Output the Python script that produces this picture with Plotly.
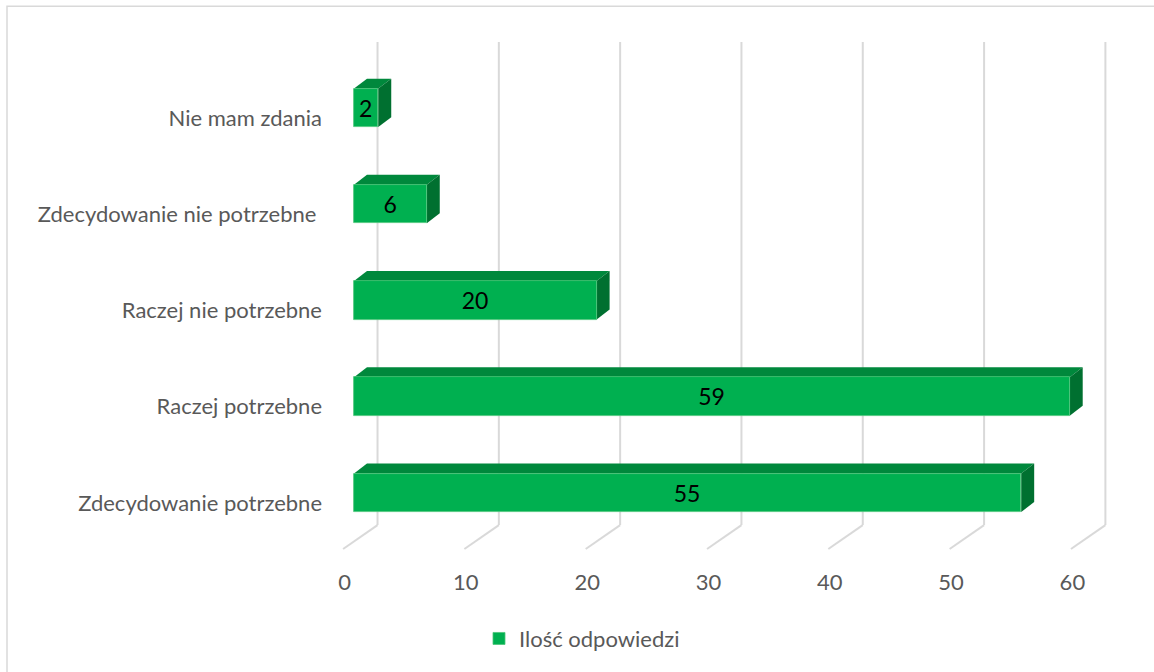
import plotly.graph_objects as go

# ---- data ----
categories = ["Zdecydowanie potrzebne", "Raczej potrzebne", "Raczej nie potrzebne",
              "Zdecydowanie nie potrzebne\u00a0", "Nie mam zdania"]
values = [55, 59, 20, 6, 2]
x_ticks = [0, 10, 20, 30, 40, 50, 60]
series_name = "Ilość odpowiedzi"

# ---- styling / pseudo-3D geometry (in axis units) ----
FONT = "Lato"
GREEN = "#00B050"
TOP = "#00883C"
SIDE = "#007030"
GRID = "#D9D9D9"
BAR_H = 0.40          # front face height
DEPTH_X = 1.07        # bar depth offset in x
DEPTH_Y = 0.1035      # bar depth offset in y
BACK_X = 1.94         # back wall offset
FLOOR_X = -0.90       # floor front offset
TICK_SHIFT = 0.78     # tick label offset (floor front)
Y_BACK = -0.336
Y_TOP = 4.684
Y_FLOOR = -0.585
LABEL_OFF = -0.105
XR = [-1.154, 62.32]
YR = [-0.626, 4.705]

ypos = list(range(len(categories)))

fig = go.Figure()
fig.add_trace(go.Bar(
    x=values, y=ypos, orientation="h", width=BAR_H,
    marker=dict(color=GREEN, line=dict(color="#4CC57A", width=0.8)),
    text=[str(v) for v in values], textposition="inside",
    insidetextanchor="middle", constraintext="none",
    textfont=dict(family=FONT, size=23, color="#000000"),
    name=series_name, showlegend=True, hoverinfo="x+y",
))
fig.add_trace(go.Scatter(x=[None], y=[None], xaxis="x2", yaxis="y",
                         showlegend=False, hoverinfo="skip"))

shapes = []
# back wall gridlines and floor diagonals
for t in x_ticks:
    shapes.append(dict(type="line", xref="x", yref="y", layer="below",
                       x0=t + BACK_X, x1=t + BACK_X, y0=Y_BACK, y1=Y_TOP,
                       line=dict(color=GRID, width=2)))
    shapes.append(dict(type="line", xref="x", yref="y", layer="below",
                       x0=t + BACK_X, x1=t + FLOOR_X, y0=Y_BACK, y1=Y_FLOOR,
                       line=dict(color=GRID, width=2)))
# bar top and side faces
for yi, v in zip(ypos, values):
    yb, yt = yi - BAR_H / 2, yi + BAR_H / 2
    top = (f"M 0,{yt} L {v},{yt} L {v + DEPTH_X},{yt + DEPTH_Y} "
           f"L {DEPTH_X},{yt + DEPTH_Y} Z")
    side = (f"M {v},{yb} L {v},{yt} L {v + DEPTH_X},{yt + DEPTH_Y} "
            f"L {v + DEPTH_X},{yb + DEPTH_Y} Z")
    shapes.append(dict(type="path", path=top, xref="x", yref="y", layer="below",
                       fillcolor=TOP, line=dict(width=0)))
    shapes.append(dict(type="path", path=side, xref="x", yref="y", layer="below",
                       fillcolor=SIDE, line=dict(width=0)))

# outer chart border
L, R, T, B = 340, 1110, 40, 555
W, H = R - L, B - T
shapes.append(dict(type="rect", xref="paper", yref="paper", layer="below",
                   x0=(7 - L) / W, x1=(1170 - L) / W,
                   y0=(B - 690) / H, y1=(B - 6) / H,
                   line=dict(color=GRID, width=1.5), fillcolor="rgba(0,0,0,0)"))

fig.update_layout(
    width=1154, height=672,
    margin=dict(l=L, r=1154 - R, t=T, b=672 - B),
    paper_bgcolor="white", plot_bgcolor="rgba(0,0,0,0)",
    shapes=shapes,
    bargap=0,
    xaxis=dict(range=XR, visible=False, showgrid=False, zeroline=False, fixedrange=True),
    xaxis2=dict(range=[XR[0] + TICK_SHIFT, XR[1] + TICK_SHIFT], overlaying="x",
                anchor="y", side="bottom", tickvals=x_ticks,
                ticktext=[str(t) for t in x_ticks], showgrid=False, zeroline=False,
                showline=False, ticks="", ticklabelstandoff=14,
                tickfont=dict(family=FONT, size=22, color="#595959")),
    yaxis=dict(range=YR, tickvals=[i + LABEL_OFF for i in ypos], ticktext=categories,
               showgrid=False, zeroline=False, showline=False, ticks="",
               ticklabelstandoff=17,
               tickfont=dict(family=FONT, size=22, color="#595959")),
    legend=dict(orientation="h", x=(582 - L) / W, xanchor="center",
                y=(B - 641) / H, yanchor="middle",
                font=dict(family=FONT, size=22, color="#595959"),
                bgcolor="rgba(0,0,0,0)"),
    showlegend=True,
)

fig.write_html("out.html", config={"displayModeBar": False},
               post_script="document.body.style.margin='0px';document.body.style.padding='0px';")
